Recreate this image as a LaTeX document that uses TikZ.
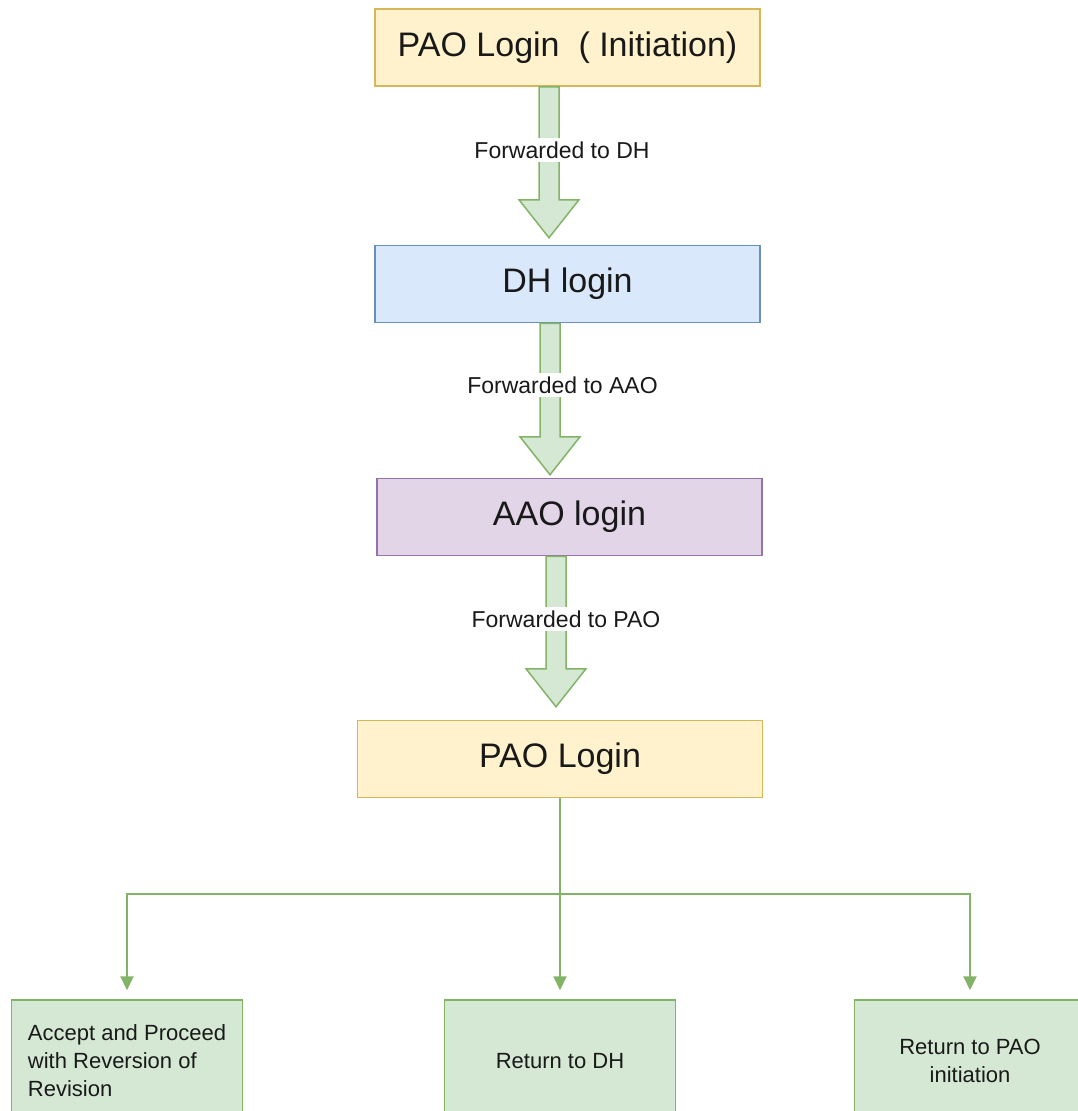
\documentclass[tikz,border=0pt]{standalone}
\usepackage{fontspec}
\setmainfont{Liberation Sans}
\usetikzlibrary{calc,arrows.meta}
\definecolor{yelfill}{HTML}{FFF2CC}
\definecolor{yelline}{HTML}{D6B656}
\definecolor{bluefill}{HTML}{DAE8FC}
\definecolor{blueline}{HTML}{6C8EBF}
\definecolor{purfill}{HTML}{E1D5E7}
\definecolor{purline}{HTML}{9673A6}
\definecolor{grnfill}{HTML}{D5E8D4}
\definecolor{grnline}{HTML}{82B366}
% block arrow: from node, to node, axis coordinate, gap above target
\newcommand{\fatarrow}[4]{%
  \path[fatarrow] ($(#1.south -| #3)+(-10,0)$) -- ($(#2.north -| #3)+(-10,-#4-38)$)
    -- ($(#2.north -| #3)+(-30,-#4-38)$) -- ($(#2.north -| #3)+(0,-#4)$)
    -- ($(#2.north -| #3)+(30,-#4-38)$) -- ($(#2.north -| #3)+(10,-#4-38)$)
    -- ($(#1.south -| #3)+(10,0)$) -- cycle;}
\begin{document}
\begin{tikzpicture}[x=1pt,y=-1pt,
  stage/.style={draw, rectangle, line width=1.5pt, minimum width=385pt, minimum height=77pt,
    text=black!90, font=\fontsize{34}{40}\selectfont},
  outcome/.style={draw=grnline, fill=grnfill, rectangle, line width=1.5pt, minimum width=231pt,
    minimum height=122pt, text=black!90, font=\fontsize{22}{28}\selectfont},
  fatarrow/.style={draw=grnline, fill=grnfill, line width=1.5pt, line join=miter},
  tag/.style={fill=white, inner sep=4pt, text=black!90, font=\fontsize{23}{28}\selectfont},
  link/.style={draw=grnline, line width=2pt, -{Triangle[width=13pt,length=14pt]}, shorten >=9pt}]
\useasboundingbox (0,0) rectangle (1078,1111);

\node[stage, fill=yelfill, draw=yelline] (pao) at (567.5,47.5) {PAO Login\ \ ( Initiation)};
\node[stage, fill=bluefill, draw=blueline] (dh) at (567.5,284) {DH login};
\node[stage, fill=purfill, draw=purline] (aao) at (569.5,517) {AAO login};
\node[stage, fill=yelfill, draw=yelline, minimum width=405pt] (paolog) at (560,759) {PAO Login};

\node[outcome, align=left] (accept) at (127,1061)
  {Accept and Proceed\\with Reversion of\\Revision};
\node[outcome] (retdh) at (560,1061) {Return to DH};
\node[outcome, align=center] (retpao) at (970,1061) {Return to PAO\\initiation};

\coordinate (ax1) at (549,0);
\coordinate (ax2) at (550,0);
\coordinate (ax3) at (556,0);
\fatarrow{pao}{dh}{ax1}{7}
\fatarrow{dh}{aao}{ax2}{3}
\fatarrow{aao}{paolog}{ax3}{13}

\node[tag] (t1) at (562,150) {Forwarded to DH};
\node[tag] (t2) at (562.5,385) {Forwarded to AAO};
\node[tag] (t3) at (566,619) {Forwarded to PAO};

\path[link] (paolog.south) -- (retdh.north);
\path[link] (paolog.south) -- ++(0,96) -| (accept.north);
\path[link] (paolog.south) -- ++(0,96) -| (retpao.north);
\end{tikzpicture}
\end{document}
